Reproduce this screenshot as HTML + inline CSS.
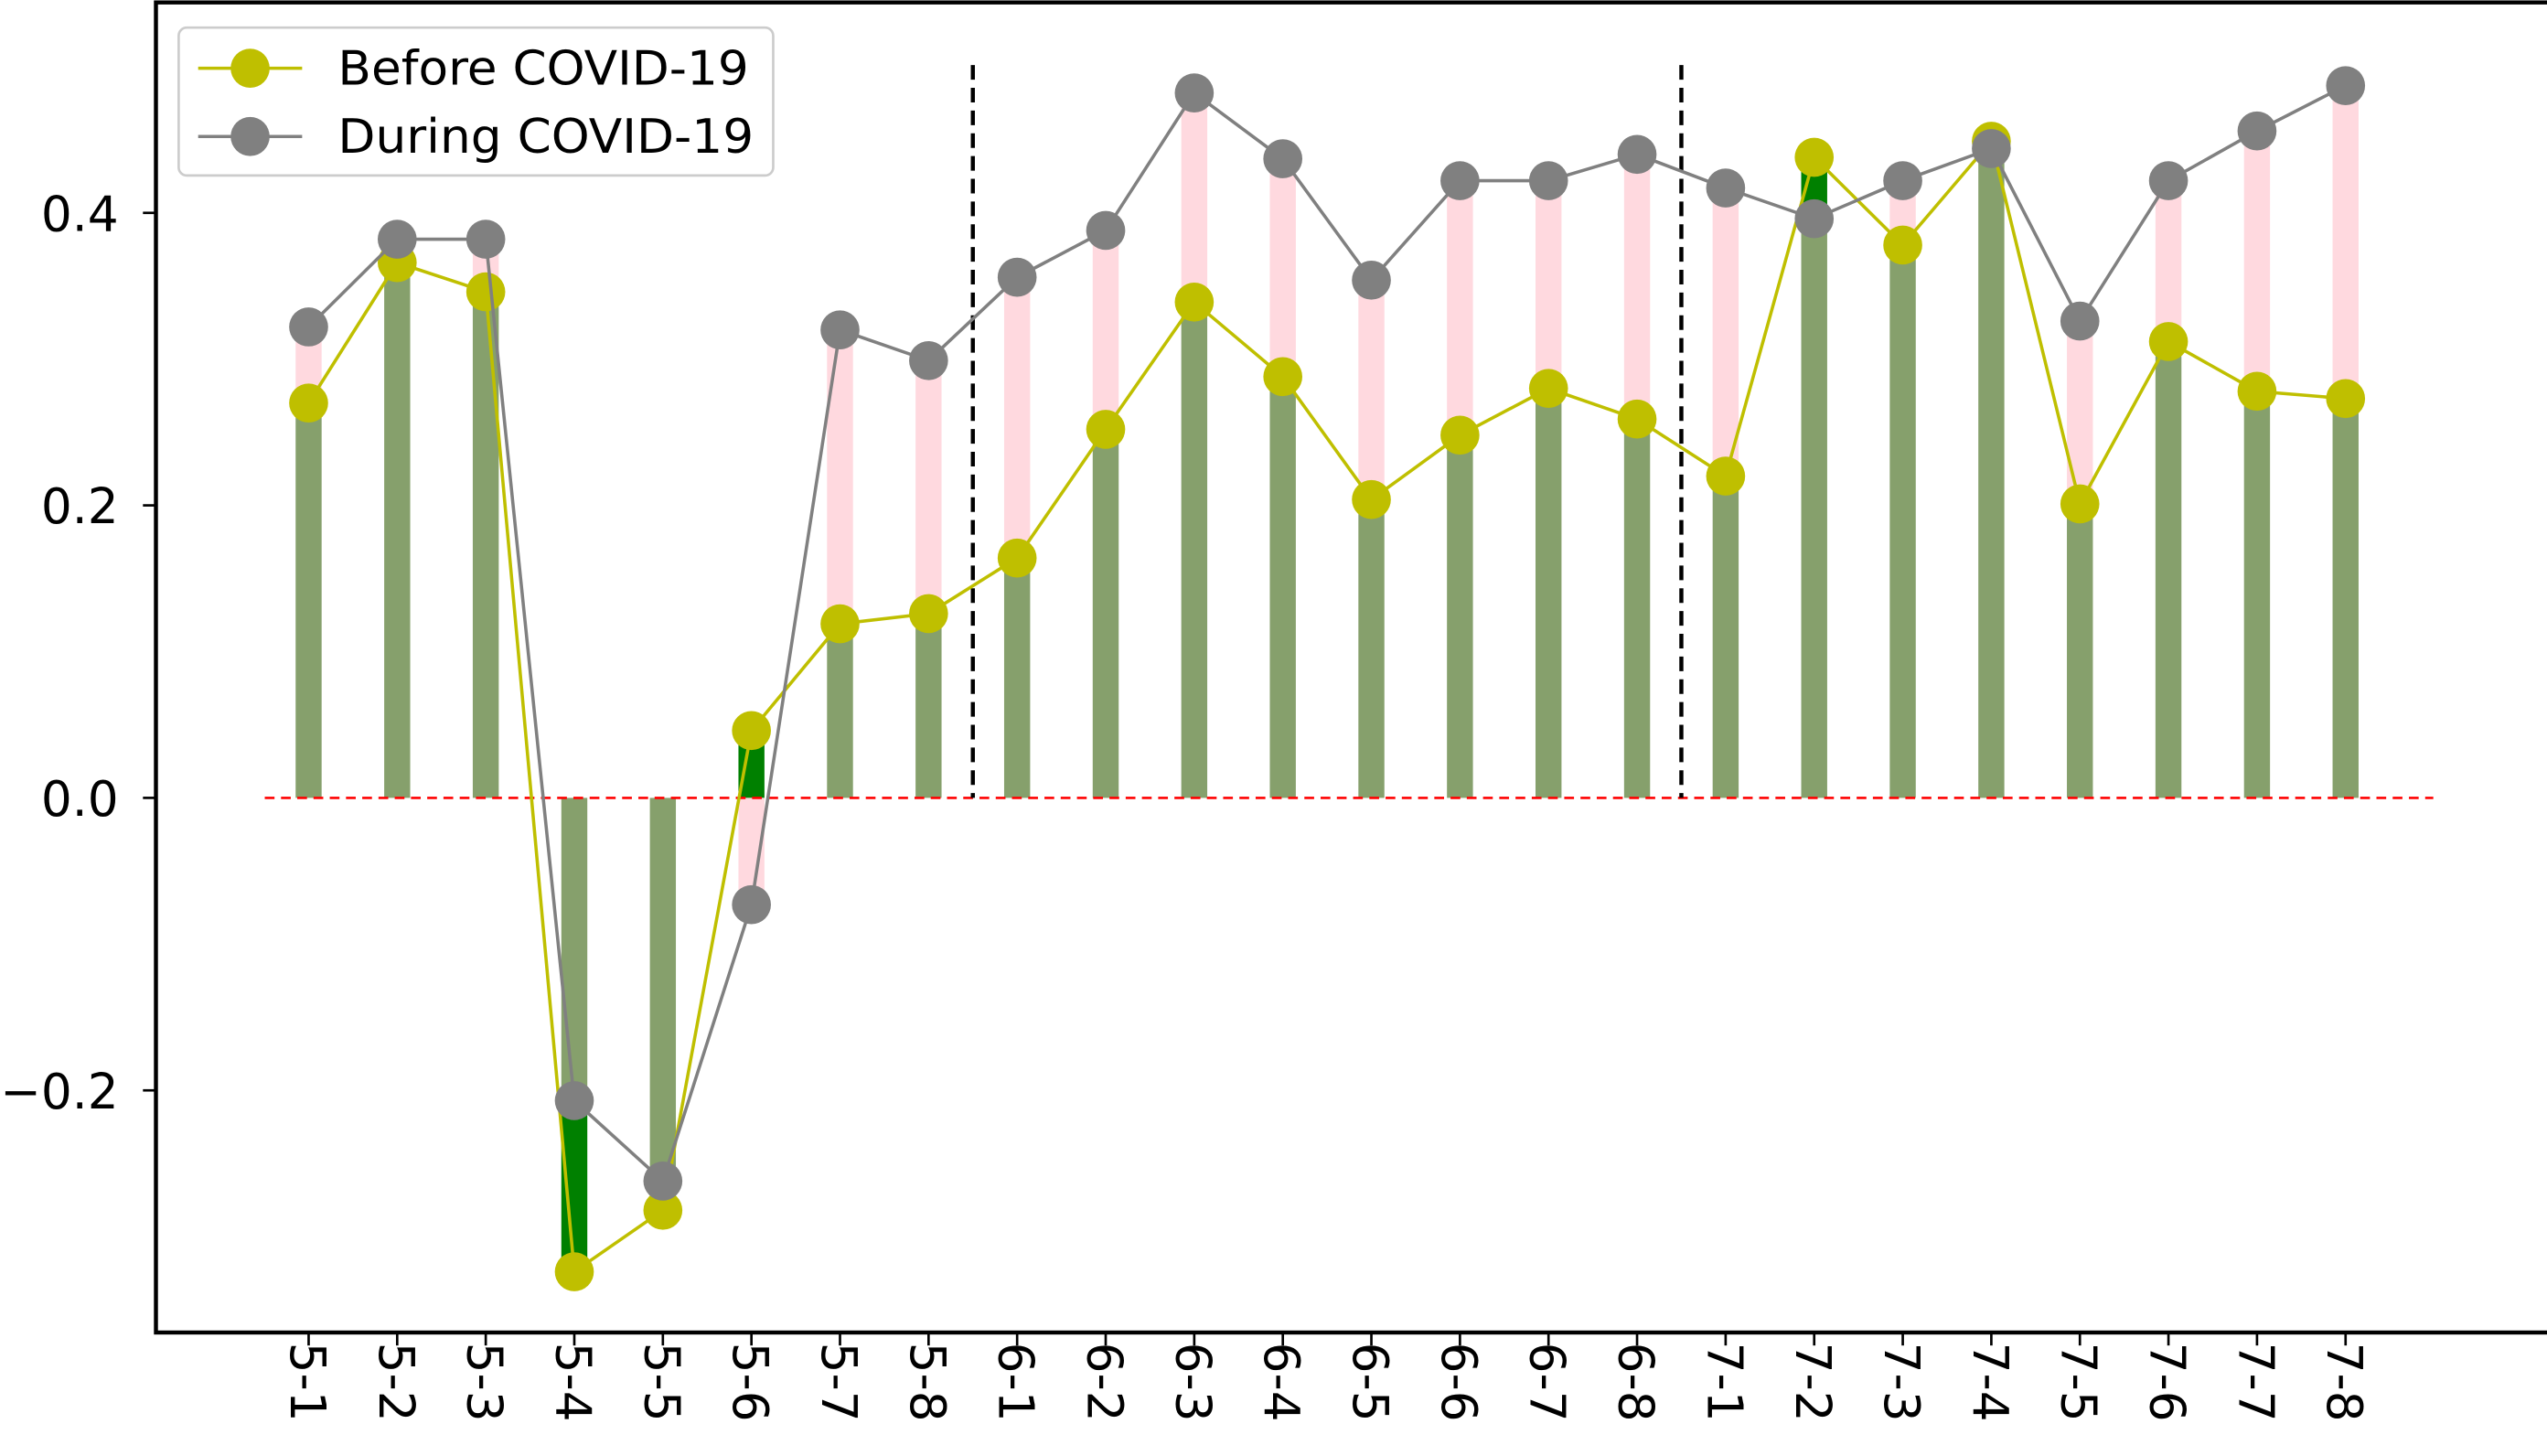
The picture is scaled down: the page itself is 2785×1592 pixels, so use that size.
<!DOCTYPE html>
<html><head><meta charset="utf-8"><style>
html,body{margin:0;padding:0;background:#fff;}
svg{display:block;font-family:"DejaVu Sans","Liberation Sans",sans-serif;}
</style></head><body>
<svg id="chart" width="2785" height="1592" viewBox="0 0 1568 896" preserveAspectRatio="none" xmlns="http://www.w3.org/2000/svg">
<rect x="0" y="0" width="1568" height="896" fill="#fff"/>
<g id="marks"></g>
<rect x="96" y="1.5" width="1480" height="818.5" fill="none" stroke="#000" stroke-width="2.5"/>
<g id="axes"></g>
<g>
<rect x="110" y="17" width="366" height="91" rx="5" fill="#fff" fill-opacity="0.85" stroke="#ccc" stroke-width="1.5"/>
<g>
<line x1="122" y1="42" x2="186" y2="42" stroke="#bfbf00" stroke-width="2"/>
<circle cx="154" cy="42" r="12" fill="#bfbf00"/>
<text x="208" y="52" font-size="29" textLength="253" lengthAdjust="spacingAndGlyphs" fill="#000">Before COVID-19</text></g>
<g>
<line x1="122" y1="84" x2="186" y2="84" stroke="#808080" stroke-width="2"/>
<circle cx="154" cy="84" r="12" fill="#808080"/>
<text x="208" y="94" font-size="29" textLength="256" lengthAdjust="spacingAndGlyphs" fill="#000">During COVID-19</text></g>
</g>
</svg>
<script>
const categories=["5-1","5-2","5-3","5-4","5-5","5-6","5-7","5-8","6-1","6-2","6-3","6-4","6-5","6-6","6-7","6-8","7-1","7-2","7-3","7-4","7-5","7-6","7-7","7-8"];
const beforeVals=[0.27,0.366,0.346,-0.324,-0.282,0.046,0.119,0.126,0.164,0.252,0.339,0.288,0.204,0.248,0.28,0.259,0.22,0.438,0.378,0.449,0.201,0.312,0.278,0.273];
const duringVals=[0.322,0.382,0.382,-0.207,-0.262,-0.073,0.32,0.299,0.356,0.388,0.482,0.437,0.354,0.422,0.422,0.44,0.417,0.396,0.422,0.444,0.326,0.422,0.456,0.487];
const yTicks=[-0.2,0.0,0.2,0.4];
const yTickLabels=["\u22120.2","0.0","0.2","0.4"];
const dividerAfter=[7.5,15.5];

const NS="http://www.w3.org/2000/svg";
const x=i=>190+i*(1444-190)/23;
const y=v=>491-v*900;
const marks=document.getElementById('marks'), axes=document.getElementById('axes');
function mk(tag,attrs,parent){const e=document.createElementNS(NS,tag);for(const k in attrs)e.setAttribute(k,attrs[k]);parent.appendChild(e);return e;}
const BW=16;
function bar(i,a,b,fill,parent){const t=Math.min(y(a),y(b)),h=Math.abs(y(a)-y(b));return mk('rect',{x:x(i)-BW/2,y:t,width:BW,height:h,fill:fill},parent);}
categories.forEach((c,i)=>{
  const b=beforeVals[i],d=duringVals[i];
  const g=mk('g',{},marks);
  
  
  if(b*d>=0){
    const base=Math.abs(b)<Math.abs(d)?b:d;
    bar(i,0,base,'#86a06c',g);
    if(Math.abs(d)>Math.abs(b)) bar(i,b,d,'#ffd9df',g); else bar(i,d,b,'#008000',g);
  } else {
    bar(i,0,b,'#008000',g); bar(i,0,d,'#ffd9df',g);
  }
});
const zl=mk('line',{x1:163,x2:1498,y1:y(0),y2:y(0),stroke:'#ff0000','stroke-width':1.5,'stroke-dasharray':'6,4'},marks);


dividerAfter.forEach(p=>{const l=mk('line',{x1:x(p),x2:x(p),y1:40,y2:y(0),stroke:'#000','stroke-width':2.5,'stroke-dasharray':'9,5'},marks);
  
  });
function series(vals,color,name){
  const g=mk('g',{},marks);
  
  
  mk('polyline',{points:vals.map((v,i)=>x(i)+','+y(v)).join(' '),fill:'none',stroke:color,'stroke-width':2},g);
  vals.forEach((v,i)=>{const c=mk('circle',{cx:x(i),cy:y(v),r:12,fill:color},g);
    
    });
}
series(beforeVals,'#bfbf00','before-covid-series');
series(duringVals,'#808080','during-covid-series');
yTicks.forEach((v,i)=>{
  mk('line',{x1:88,x2:96,y1:y(v),y2:y(v),stroke:'#000','stroke-width':1.5},axes);
  const t=mk('text',{x:73,y:y(v)+11,'font-size':30,'text-anchor':'end',fill:'#000'},axes);
  t.textContent=yTickLabels[i];
  
  
});
categories.forEach((c,i)=>{
  mk('line',{x1:x(i),x2:x(i),y1:820,y2:828,stroke:'#000','stroke-width':1.5},axes);
  const t=mk('text',{x:0,y:0,'font-size':30,fill:'#000',transform:`translate(${x(i)-11},826) rotate(90)`},axes);
  t.textContent=c;
  
  
});
</script>
</body></html>
